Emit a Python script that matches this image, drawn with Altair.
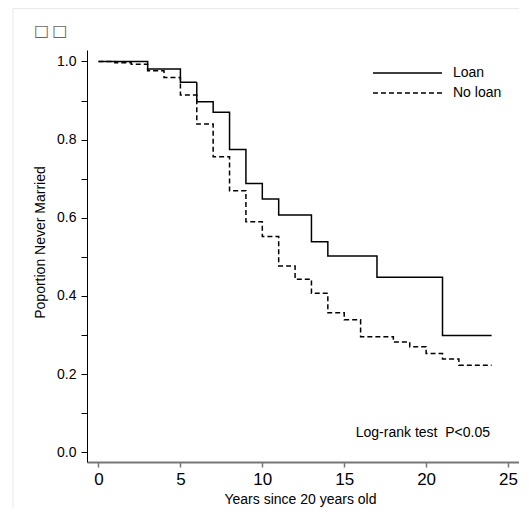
import altair as alt
import pandas as pd

# ---- data ----
groups = ["Loan", "No loan"]
loan_t = [0, 3, 5, 6, 7, 8, 9, 10, 11, 13, 14, 17, 21, 24]
loan_s = [1.0, 0.981, 0.947, 0.897, 0.870, 0.775, 0.688, 0.648, 0.607, 0.539, 0.502, 0.448, 0.299, 0.299]
noloan_t = [0, 1, 2, 3, 4, 5, 6, 7, 8, 9, 10, 11, 12, 13, 14, 15, 16, 18, 19, 20, 21, 22, 24]
noloan_s = [1.0, 0.997, 0.993, 0.976, 0.959, 0.914, 0.840, 0.756, 0.669, 0.590, 0.552, 0.477,
            0.443, 0.407, 0.357, 0.339, 0.296, 0.282, 0.270, 0.253, 0.239, 0.223, 0.223]
x_ticks = [0, 5, 10, 15, 20, 25]
y_ticks = [round(i * 0.1, 1) for i in range(11)]
title_text = ["\u25a1\u2009\u25a1"]
x_title = "Years since 20 years old"
y_title = "Poportion Never Married"
note_text = ["Log-rank test\u00a0 P<0.05"]
note_x = [23.9]
note_y = [0.049]

FONT = "Liberation Sans"

df = pd.DataFrame({
    "t": loan_t + noloan_t,
    "s": loan_s + noloan_s,
    "g": [groups[0]] * len(loan_t) + [groups[1]] * len(noloan_t),
})

x_scale = alt.Scale(domain=[-0.702, 25.67], nice=False, zero=False)
y_scale = alt.Scale(domain=[-0.0248, 1.0294], nice=False, zero=False)
dash_scale = alt.Scale(domain=groups, range=[[1, 0], [5, 3]])

x_axis = alt.Axis(
    values=x_ticks, format="d", title=x_title, grid=False,
    labelFontSize=17, labelColor="black", labelPadding=4, labelFlush=False, labelOverlap=False,
    tickSize=5, tickColor="#777777", tickWidth=1.5,
    domainColor="#777777", domainWidth=2,
    titleFontSize=14, titleFontWeight="normal", titleColor="black",
    titleX=213, titleY=37, titleBaseline="middle", titleAlign="center",
)
x_enc = alt.X("t:Q", scale=x_scale, axis=x_axis)

lines = alt.Chart(df).mark_line(
    interpolate="step-after", color="black", strokeWidth=1.5
).encode(
    x=x_enc,
    y=alt.Y("s:Q", scale=y_scale, axis=alt.Axis(
        values=y_ticks, grid=False,
        labelExpr="round(datum.value*10) % 2 == 0 ? format(datum.value, '.1f') : ''",
        labelFontSize=14, labelColor="black", labelPadding=5, labelFlush=False, labelOverlap=False,
        tickSize=6, tickColor="black", tickWidth=1,
        domainColor="black", domainWidth=1,
        title=y_title, titleFontSize=14, titleFontWeight="normal", titleColor="black",
        titleX=-47, titleY=192, titleBaseline="middle", titleAlign="center", titleAngle=270,
    )),
    strokeDash=alt.StrokeDash("g:N", scale=dash_scale, legend=None),
)

note_df = pd.DataFrame({"t": note_x, "s": note_y, "txt": note_text})
note = alt.Chart(note_df).mark_text(
    align="right", baseline="middle", fontSize=14, color="black", font=FONT
).encode(
    x=x_enc,
    y=alt.Y("s:Q", scale=y_scale, axis=None),
    text="txt:N",
)

# legend built from the group names (rows placed by a point scale)
leg_df = pd.DataFrame({"g": groups})
leg_y = alt.Y("g:N", scale=alt.Scale(type="point", domain=groups, range=[23, 43], padding=0), axis=None)
leg_lines = alt.Chart(leg_df).mark_rule(color="black", strokeWidth=1.5).encode(
    y=leg_y, x=alt.value(286), x2=alt.value(355),
    strokeDash=alt.StrokeDash("g:N", scale=dash_scale, legend=None),
)
leg_text = alt.Chart(leg_df).mark_text(
    align="left", baseline="middle", fontSize=14, color="black", font=FONT
).encode(y=leg_y, x=alt.value(366), text="g:N")

title_df = pd.DataFrame({"txt": title_text})
title = alt.Chart(title_df).mark_text(
    align="left", baseline="middle", fontSize=16, color="#666666", font="DejaVu Sans",
).encode(x=alt.value(-53), y=alt.value(-19), text="txt:N")

frame = alt.Chart(pd.DataFrame({"a": [0]})).mark_rect(
    fillOpacity=0, stroke="#e9e9e9", strokeWidth=1
).encode(x=alt.value(-74), x2=alt.value(700), y=alt.value(-41.5), y2=alt.value(800))

chart = alt.layer(frame, lines, note, leg_lines, leg_text, title).resolve_scale(
    y="independent"
).properties(
    width=432, height=412,
    autosize=alt.AutoSizeParams(type="none"),
    padding={"left": 79, "top": 42, "right": 0, "bottom": 46},
).configure(font=FONT).configure_view(stroke=None)

chart.save("out.html", embed_options={"renderer": "svg", "actions": False})
